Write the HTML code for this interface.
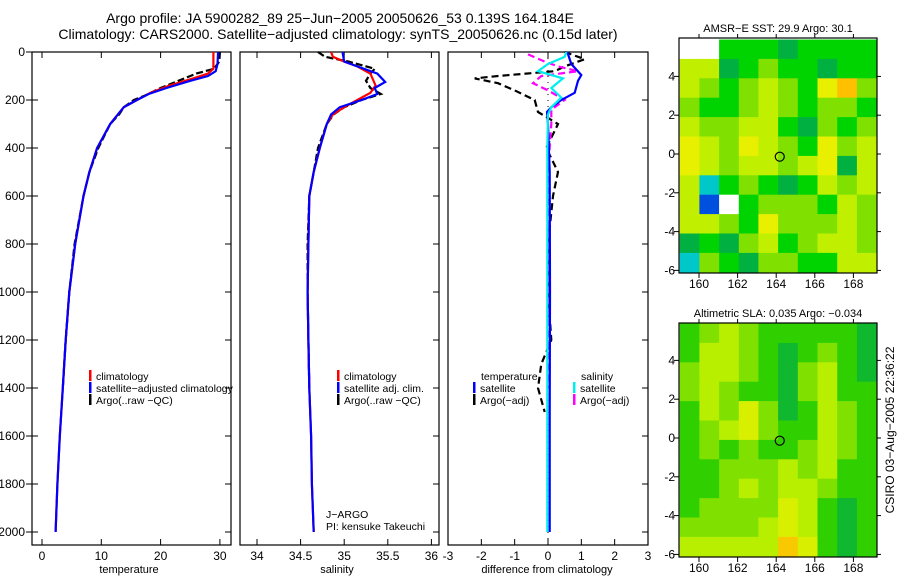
<!DOCTYPE html>
<html><head><meta charset="utf-8"><style>
body{margin:0;background:#fff}
svg{display:block;font-family:"Liberation Sans",sans-serif}
</style></head><body>
<svg id="c" width="900" height="580" viewBox="0 0 900 580">
<text x="340" y="23" font-size="14" text-anchor="middle">Argo profile: JA 5900282_89 25−Jun−2005 20050626_53 0.139S 164.184E</text>
<text x="338" y="39" font-size="14" text-anchor="middle">Climatology: CARS2000. Satellite−adjusted climatology: synTS_20050626.nc (0.15d later)</text>
<g id="g"></g>
</svg>
<script>
// ---- data ----
const tDepthBlue=[0,50,80,100,120,150,175,200,230,260,300,400,500,600,800,1000,1200,1400,1600,1800,2000];
const tBlue=[29.7,29.6,29.3,28,25,21,18,16,13.8,12.8,11.5,9.3,8,7,5.6,4.6,4,3.5,3,2.6,2.3];
const tDepthRed=[0,70,90,110,140,170,200,230,260,300,400,500,600,800,1000,1200,1400,1600,1800,2000];
const tRed=[28.9,28.9,28,25.5,21.5,18.3,16,13.8,12.8,11.5,9.3,8,7,5.6,4.6,4,3.5,3,2.6,2.3];
const tDepthArgo=[0,40,70,90,120,150,180,200,230,260,300,400,500,600,800,1000,1200,1400];
const tArgo=[30,29.9,29,26,23,20,17.5,15.5,13.8,13,11.5,9.5,8,7,5.5,4.6,4,3.5];
const sDepthBlue=[0,40,60,90,125,150,175,200,230,260,300,400,500,600,800,1000,1200,1400,1600,1800,2000];
const sBlue=[34.98,35.0,35.15,35.38,35.47,35.35,35.38,35.2,34.95,34.85,34.8,34.72,34.65,34.6,34.59,34.58,34.59,34.6,34.62,34.63,34.65];
const sDepthRed=[0,20,40,60,90,140,170,200,230,260,300,400,500,600,800,1000,1200,1400,1600,1800,2000];
const sRed=[34.85,34.87,35.0,35.15,35.3,35.36,35.3,35.15,35.0,34.87,34.8,34.72,34.65,34.6,34.59,34.58,34.59,34.6,34.62,34.63,34.65];
const sDepthArgo=[0,20,40,70,90,120,150,175,200,230,260,300,400,500,600,800,1000,1200,1400];
const sArgo=[34.7,34.78,35.05,35.35,35.3,35.25,35.3,35.42,35.2,35.0,34.88,34.8,34.7,34.65,34.6,34.58,34.58,34.59,34.6];
const dDepthTS=[0,50,96,120,170,200,230,250,300,500,1000,1500,2000];
const dTSat=[0.58,0.7,1.0,0.9,0.8,0.4,0.1,-0.03,0.0,0.05,0.06,0.05,0.05];
const dDepthSS=[0,20,50,80,110,150,190,230,260,400,1000,2000];
const dSSat=[0.55,0.5,0.0,-0.3,0.45,0.1,0.4,0.1,0.0,-0.02,-0.02,-0.02];
const dDepthSA=[10,40,60,80,100,130,160,200,240,300,500,1000,1400];
const dSArgo=[-0.6,-0.1,0.3,0.9,-0.2,-0.45,0.0,0.5,0.1,0.1,0.0,0.0,0.0];
const dDepthTA=[0,30,60,80,100,110,130,160,200,250,300,400,500,600,800,1000,1200,1300,1400,1500];
const dTArgo=[0.5,1.1,0.5,0.2,-1.5,-2.2,-1.5,-1.0,-0.4,-0.3,0.3,-0.05,0.3,0.15,0,0,0.1,-0.2,-0.3,-0.1];
const depthTicks=[0,200,400,600,800,1000,1200,1400,1600,1800,2000];
const tTicks=[0,10,20,30];
const sTicks=[34,34.5,35,35.5,36];
const dTicks=[-3,-2,-1,0,1,2,3];
const latTicks=[-6,-4,-2,0,2,4];
const lonTicks=[160,162,164,166,168];
// map grids: rows lat 5.9 -> -6, cols lon 159 -> 169; W = no data
const sstGrid=[
"WW33323333","5523433233","5434543674","4334543443","5445532434",
"6546543645","6545545625","5134323545","50W3444354","5543644454",
"2324534554","1432443355"];
const slaGrid=[
"3454333332","3554323432","4554324532","4543324533","3546423543",
"3456433543","3434334543","3344454533","3345455433","3444465323",
"4444565323","5555576323"];
const sstColors=["#0050e0","#00c8c8","#00b040","#00d400","#80e000","#c0f000","#e8f000","#ffc000"];
const slaColors=["#0050e0","#00c8c8","#10b830","#30d000","#80e000","#b8ee00","#d8f000","#f8c800"];

// ---- helpers ----
const NS="http://www.w3.org/2000/svg";
const G=document.getElementById('g');
function mk(tag,attrs,parent){const e=document.createElementNS(NS,tag);for(const k in attrs)e.setAttribute(k,attrs[k]);(parent||G).appendChild(e);return e;}
const yD=d=>52+d*0.24;
const xT=t=>42+t*5.93;
const xS=s=>257+(s-34)*87.2;
const xDf=v=>548+v*33.33;
function line(xs,ds,fx,color,dash,name){
  const pts=xs.map((v,i)=>fx(v).toFixed(1)+','+yD(ds[i]).toFixed(1)).join(' ');
  const p=mk('polyline',{points:pts,fill:'none',stroke:color,'stroke-width':2.2});
  if(dash)p.setAttribute('stroke-dasharray',dash);
  
  
}
function panel(x0,x1,ticks,fx,label,lx,name){
  const f=mk('rect',{x:x0,y:52,width:x1-x0,height:493,fill:'none',stroke:'#000','stroke-width':1.2});
  
  
  ticks.forEach(t=>{const x=fx(t);
    mk('line',{x1:x,x2:x,y1:545,y2:539,stroke:'#000'});
    mk('line',{x1:x,x2:x,y1:52,y2:58,stroke:'#000'});
    const tx=mk('text',{x:x,y:560,'font-size':12,'text-anchor':'middle'});tx.textContent=t;
    
    });
  depthTicks.forEach(d=>{mk('line',{x1:x1,x2:x1-6,y1:yD(d),y2:yD(d),stroke:'#000'});});
  const l=mk('text',{x:lx,y:573,'font-size':11,'text-anchor':'middle'});l.textContent=label;
  
  
}
panel(32,231,tTicks,xT,'temperature',129,'temperature-panel');
panel(240,439,sTicks,xS,'salinity',337,'salinity-panel');
panel(448,648,dTicks,xDf,'difference from climatology',547,'difference-panel');
depthTicks.forEach(d=>{mk('line',{x1:32,x2:26,y1:yD(d),y2:yD(d),stroke:'#000'});mk('line',{x1:32,x2:38,y1:yD(d),y2:yD(d),stroke:'#000'});
  const t=mk('text',{x:25,y:yD(d)+4,'font-size':12,'text-anchor':'end'});t.textContent=d;
  
  });
// zero dotted line
mk('line',{x1:xDf(0),x2:xDf(0),y1:52,y2:545,stroke:'#000','stroke-dasharray':'1,5'});

line(tArgo,tDepthArgo,xT,'#000','7,3','temperature-argo-line');
line(tRed,tDepthRed,xT,'#f00',null,'temperature-climatology-line');
line(tBlue,tDepthBlue,xT,'#00f',null,'temperature-satellite-line');
line(sArgo,sDepthArgo,xS,'#000','7,3','salinity-argo-line');
line(sRed,sDepthRed,xS,'#f00',null,'salinity-climatology-line');
line(sBlue,sDepthBlue,xS,'#00f',null,'salinity-satellite-line');
line(dTArgo,dDepthTA,xDf,'#000','7,4','temperature-argo-diff-line');
line(dSArgo,dDepthSA,xDf,'#f0f','7,4','salinity-argo-diff-line');
line(dTSat,dDepthTS,xDf,'#00f',null,'temperature-satellite-diff-line');
line(dSSat,dDepthSS,xDf,'#0ee',null,'salinity-satellite-diff-line');

function leg(x,y,color,text,name){
  const r=mk('rect',{x:x,y:y-10,width:2.5,height:11,fill:color});
  
  
  const t=mk('text',{x:x+7,y:y,'font-size':10.5});t.textContent=text;
  
  
}
leg(89,380,'#f00','climatology','legend-temp-climatology');
leg(89,392,'#00f','satellite−adjusted climatology','legend-temp-satellite');
leg(89,404,'#000','Argo(..raw −QC)','legend-temp-argo');
leg(337,380,'#f00','climatology','legend-sal-climatology');
leg(337,392,'#00f','satellite adj. clim.','legend-sal-satellite');
leg(337,404,'#000','Argo(..raw −QC)','legend-sal-argo');
{const t=mk('text',{x:481,y:380,'font-size':10.5});t.textContent='temperature';}
leg(473,392,'#00f','satellite','legend-diff-temp-satellite');
leg(473,404,'#000','Argo(−adj)','legend-diff-temp-argo');
{const t=mk('text',{x:581,y:380,'font-size':10.5});t.textContent='salinity';}
leg(573,392,'#0ee','satellite','legend-diff-sal-satellite');
leg(573,404,'#f0f','Argo(−adj)','legend-diff-sal-argo');
{const t=mk('text',{x:326,y:518,'font-size':10.5});t.textContent='J−ARGO';
 const t2=mk('text',{x:326,y:530,'font-size':10.5});t2.textContent='PI: kensuke Takeuchi';}

// maps
function map(top,bottom,lat0y,grid,colors,title,name){
  const x0=679,x1=877;
  const xL=lo=>699+(lo-160)*19.3;
  const yL=la=>lat0y-la*19.4;
  const rows=grid.length,cols=grid[0].length;
  const lonMin=159,lonMax=169.2,latMax=5.9,latMin=-6.1;
  const cw=(xL(lonMax)-xL(lonMin))/cols, ch=(yL(latMin)-yL(latMax))/rows;
  grid.forEach((row,r)=>{for(let c=0;c<cols;c++){const v=row[c];
    const rc=mk('rect',{x:(xL(lonMin)+c*cw).toFixed(1),y:(yL(latMax)+r*ch).toFixed(1),width:(cw+0.6).toFixed(1),height:(ch+0.6).toFixed(1),fill:v==='W'?'#fff':colors[+v]});
    
    }});
  const f=mk('rect',{x:x0,y:top,width:x1-x0,height:bottom-top,fill:'none',stroke:'#000','stroke-width':1.2});
  
  
  latTicks.forEach(la=>{const y=yL(la);mk('line',{x1:x0,x2:x0-5,y1:y,y2:y,stroke:'#000'});mk('line',{x1:x1,x2:x1+4,y1:y,y2:y,stroke:'#000'});
    const t=mk('text',{x:675,y:y+4,'font-size':12,'text-anchor':'end'});t.textContent=la;
    
    });
  lonTicks.forEach(lo=>{const x=xL(lo);mk('line',{x1:x,x2:x,y1:bottom,y2:bottom+5,stroke:'#000'});mk('line',{x1:x,x2:x,y1:top,y2:top-4,stroke:'#000'});
    const t=mk('text',{x:x,y:bottom+15,'font-size':12,'text-anchor':'middle'});t.textContent=lo;
    
    });
  const c=mk('circle',{cx:xL(164.184),cy:yL(-0.139),r:4.5,fill:'none',stroke:'#000','stroke-width':1.2});
  
  
  const t=mk('text',{x:778,y:top-6,'font-size':11,'text-anchor':'middle'});t.textContent=title;
  
  
}
map(38,273,154,sstGrid,sstColors,'AMSR−E SST: 29.9 Argo: 30.1','sst-map');
map(323,557,438,slaGrid,slaColors,'Altimetric SLA: 0.035 Argo: −0.034','sla-map');
{const t=mk('text',{x:0,y:0,'font-size':12,'text-anchor':'middle',transform:'translate(894,430) rotate(-90)'});t.textContent='CSIRO 03−Aug−2005 22:36:22';
 }
</script>
</body></html>
